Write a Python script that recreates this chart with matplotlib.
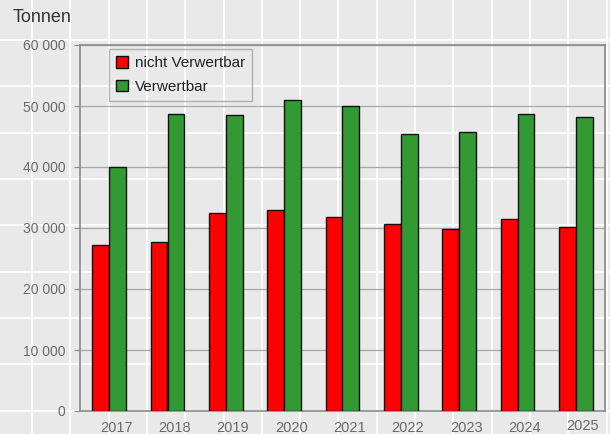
import matplotlib
matplotlib.use("Agg")
import matplotlib.pyplot as plt
import matplotlib.transforms as mtransforms
import numpy as np
from matplotlib.lines import Line2D
from matplotlib.ticker import FuncFormatter

years = ["2017", "2018", "2019", "2020", "2021", "2022", "2023", "2024", "2025"]
nicht_verwertbar = [27260, 27650, 32510, 33000, 31800, 30600, 29890, 31430, 30100]
verwertbar = [39950, 48690, 48470, 50930, 49950, 45410, 45680, 48640, 48150]
series_labels = ["nicht Verwertbar", "Verwertbar"]
y_ticks = [0, 10000, 20000, 30000, 40000, 50000, 60000]

plt.rcParams['font.family'] = ['Liberation Sans', 'DejaVu Sans']

W, H = 610, 434
bg = "#e9e9e9"
fig = plt.figure(figsize=(W / 100, H / 100), dpi=100, facecolor=bg)

# background white grid pattern
for k in range(17):
    xv = 32 + 38.3 * k
    fig.add_artist(Line2D([xv / W, xv / W], [0, 1], color="white", lw=1.3, zorder=0,
                          transform=fig.transFigure))
for k in range(9):
    yv = 40 + 46.33 * k
    fig.add_artist(Line2D([0, 1], [1 - yv / H, 1 - yv / H], color="white", lw=1.3, zorder=0,
                          transform=fig.transFigure))

ax = fig.add_axes([80 / W, 1 - 411 / H, (605 - 80) / W, (411 - 45) / H])
ax.patch.set_alpha(0)

x = np.arange(len(years))
bw = 0.29
ax.bar(x - bw / 2, nicht_verwertbar, bw, color="#ff0000", edgecolor="#111111", linewidth=1.0,
       label=series_labels[0], zorder=3)
ax.bar(x + bw / 2, verwertbar, bw, color="#339933", edgecolor="#111111", linewidth=1.0,
       label=series_labels[1], zorder=3)

ax.set_xlim(-0.5, len(years) - 0.5)
ax.set_ylim(0, 60000)
ax.set_yticks(y_ticks)
ax.yaxis.set_major_formatter(FuncFormatter(lambda v, p: f"{int(v):,}".replace(",", " ")))
ax.set_xticks(x)
ax.set_xticklabels(years)
ax.grid(axis="y", color="#a8a8a8", linewidth=0.9, zorder=1)
ax.set_axisbelow(True)
for s in ax.spines.values():
    s.set_color("#8a8a8a")
    s.set_linewidth(1.2)
ax.tick_params(axis="y", length=4, color="#8a8a8a", labelcolor="#6a6a6a", labelsize=10, pad=6.5)
ax.tick_params(axis="x", length=0, labelcolor="#6a6a6a", labelsize=10.5, pad=7)

# labels sit slightly right of the bar pairs in the reference
for i, lab in enumerate(ax.get_xticklabels()):
    dy = 2 / 100 if i == len(years) - 1 else 0
    off = mtransforms.ScaledTranslation(7 / 100, dy, fig.dpi_scale_trans)
    lab.set_transform(lab.get_transform() + off)

fig.text(13 / W, 1 - 17 / H, "Tonnen", fontsize=13, color="#333333", ha="left", va="center")

leg = ax.legend(loc="upper left", bbox_to_anchor=(109 / W, 1 - 49 / H),
                bbox_transform=fig.transFigure, frameon=True, fancybox=False,
                fontsize=11, handlelength=0.8, handleheight=0.8, handletextpad=0.45,
                labelspacing=0.62, borderpad=0.45, borderaxespad=0, labelcolor="#222222")
fr = leg.get_frame()
fr.set_facecolor("none")
fr.set_edgecolor("#a0a0a0")
fr.set_linewidth(1.0)
leg.set_zorder(5)

fig.savefig("out.png", dpi=100, facecolor=bg)
